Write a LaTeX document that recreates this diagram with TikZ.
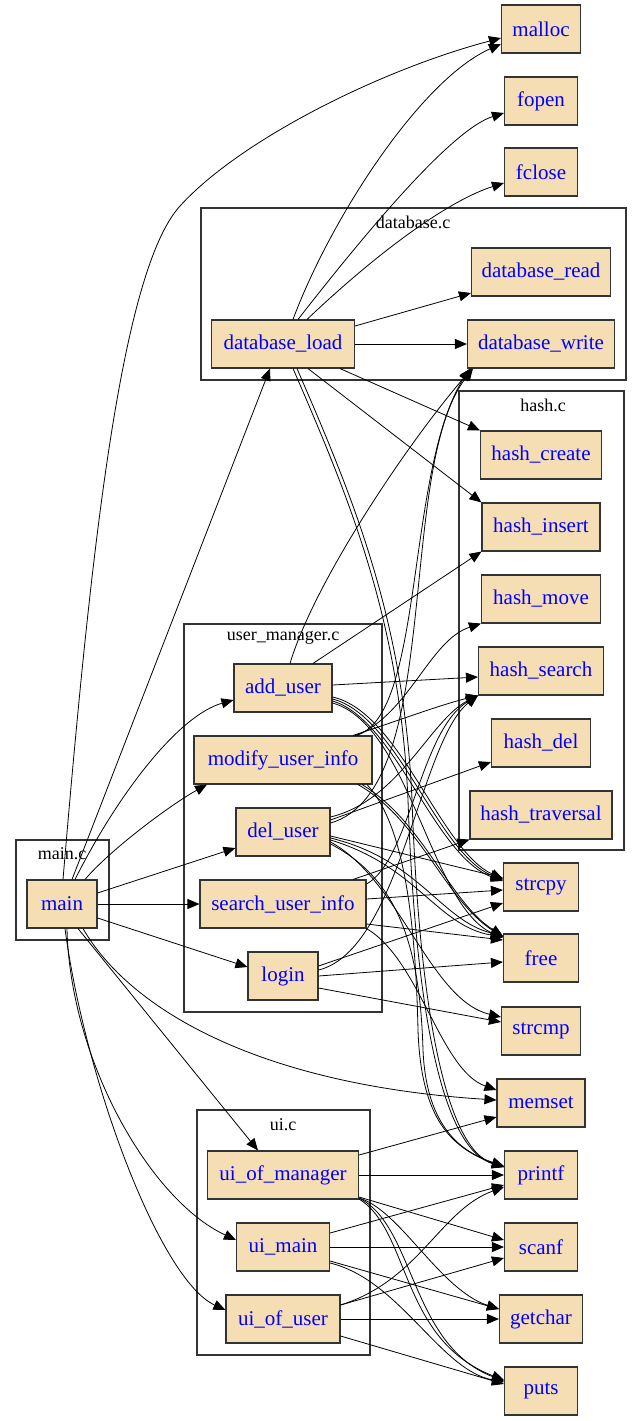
\documentclass[tikz,border=0pt]{standalone}
\usepackage{fontspec}
\setmainfont{Liberation Serif}
\usetikzlibrary{arrows.meta}
\definecolor{nodefill}{HTML}{F5DEB3}
\definecolor{fnblue}{HTML}{0000FF}
\begin{document}
\begin{tikzpicture}[x=1pt,y=-1pt,
  fn/.style={draw=black!80, line width=1.1pt, fill=nodefill, text=fnblue,
    font=\fontsize{21}{24}\selectfont, minimum height=48pt, inner sep=0pt, anchor=center},
  cl/.style={draw=black!80, line width=1.1pt},
  cllab/.style={font=\fontsize{18}{20}\selectfont, inner sep=0pt},
  ed/.style={-{Triangle[length=12pt,width=10pt]}, line width=0.8pt},
]
\useasboundingbox (0,0) rectangle (643,1421);
\fill[white] (0,0) rectangle (643,1421);
% clusters
\draw[cl] (201,208) rectangle (626,380);
\node[cllab] (labdb) at (413,222) {database.c};
\draw[cl] (459,391) rectangle (624,850);
\node[cllab] (labhash) at (543,405) {hash.c};
\draw[cl] (184,624) rectangle (382,1012);
\node[cllab] (labum) at (283,638) {user\_manager.c};
\draw[cl] (16,840) rectangle (109,940);
\node[cllab] (labmain) at (62,854) {main.c};
\draw[cl] (197,1110) rectangle (370,1355);
\node[cllab] (labui) at (283,1125) {ui.c};
% nodes
\node[fn, minimum width=79pt] (malloc) at (541,29) {malloc};
\node[fn, minimum width=73pt] (fopen) at (541,101) {fopen};
\node[fn, minimum width=73pt] (fclose) at (541,172) {fclose};
\node[fn, minimum width=139pt] (database_read) at (541,272) {database\_read};
\node[fn, minimum width=147pt] (database_write) at (541,344) {database\_write};
\node[fn, minimum width=143pt] (database_load) at (283,344) {database\_load};
\node[fn, minimum width=121pt] (hash_create) at (541,455) {hash\_create};
\node[fn, minimum width=118pt] (hash_insert) at (541,527) {hash\_insert};
\node[fn, minimum width=119pt] (hash_move) at (541,599) {hash\_move};
\node[fn, minimum width=125pt] (hash_search) at (541,671) {hash\_search};
\node[fn, minimum width=99pt] (hash_del) at (541,743) {hash\_del};
\node[fn, minimum width=142pt] (hash_traversal) at (541,815) {hash\_traversal};
\node[fn, minimum width=75pt] (strcpy) at (541,887) {strcpy};
\node[fn, minimum width=75pt] (free) at (541,958) {free};
\node[fn, minimum width=79pt] (strcmp) at (541,1031) {strcmp};
\node[fn, minimum width=88pt] (memset) at (541,1103) {memset};
\node[fn, minimum width=73pt] (printf) at (541,1175) {printf};
\node[fn, minimum width=73pt] (scanf) at (541,1247) {scanf};
\node[fn, minimum width=83pt] (getchar) at (541,1319) {getchar};
\node[fn, minimum width=73pt] (puts) at (541,1391) {puts};
\node[fn, minimum width=98pt] (add_user) at (283,688) {add\_user};
\node[fn, minimum width=178pt] (modify_user_info) at (283,760) {modify\_user\_info};
\node[fn, minimum width=94pt] (del_user) at (283,832) {del\_user};
\node[fn, minimum width=166pt] (search_user_info) at (283,904) {search\_user\_info};
\node[fn, minimum width=70pt] (login) at (283,976) {login};
\node[fn, minimum width=70pt] (main) at (62,904) {main};
\node[fn, minimum width=151pt] (ui_of_manager) at (283,1175) {ui\_of\_manager};
\node[fn, minimum width=93pt] (ui_main) at (283,1247) {ui\_main};
\node[fn, minimum width=114pt] (ui_of_user) at (283,1319) {ui\_of\_user};
% main edges
\draw[ed] ([xshift=1pt]main.north) .. controls (90,560) and (120,272) .. (180,206) .. controls (240,140) and (380,70) .. ([yshift=-9pt]malloc.west);
\draw[ed] ([xshift=10pt]main.north) -- ([xshift=-13pt]database_load.south);
\draw[ed] ([xshift=13pt]main.north) .. controls (120,790) and (180,715) .. ([yshift=-12pt]add_user.west);
\draw[ed] ([xshift=23pt]main.north) .. controls (110,850) and (170,805) .. ([xshift=-76pt]modify_user_info.south);
\draw[ed] ([yshift=11pt]main.east) -- ([yshift=-16pt]del_user.west);
\draw[ed] (main.east) -- (search_user_info.west);
\draw[ed] ([yshift=-14pt]main.east) -- ([yshift=9pt]login.west);
\draw[ed] ([xshift=21pt]main.south) .. controls (130,1010) and (260,1085) .. ([yshift=3pt]memset.west);
\draw[ed] ([xshift=16pt]main.south) -- ([xshift=-25pt]ui_of_manager.north);
\draw[ed] ([xshift=5pt]main.south) .. controls (70,1060) and (150,1200) .. ([yshift=7pt]ui_main.west);
\draw[ed] ([xshift=3pt]main.south) .. controls (85,1080) and (160,1280) .. ([yshift=9pt]ui_of_user.west);
% database_load edges
\draw[ed] ([xshift=10pt]database_load.north) .. controls (330,220) and (420,80) .. ([yshift=-15pt]malloc.west);
\draw[ed] ([xshift=15pt]database_load.north) .. controls (360,240) and (450,130) .. ([yshift=-12pt]fopen.west);
\draw[ed] ([xshift=24pt]database_load.north) .. controls (380,250) and (450,200) .. ([yshift=-11pt]fclose.west);
\draw[ed] ([yshift=18pt]database_load.east) -- ([yshift=-21pt]database_read.west);
\draw[ed] (database_load.east) -- (database_write.west);
\draw[ed] ([xshift=57pt]database_load.south) -- (hash_create.north west);
\draw[ed] ([xshift=25pt]database_load.south) -- (hash_insert.north west);
\draw[ed] ([xshift=10pt]database_load.south) .. controls (350,500) and (400,620) .. (408,800) .. controls (415,1000) and (440,1148) .. ([yshift=8pt]printf.west);
\draw[ed] ([xshift=14pt]database_load.south) .. controls (354,500) and (404,620) .. (412,800) .. controls (419,1000) and (444,1148) .. ([yshift=8pt]printf.west);
% add_user edges
\draw[ed] ([xshift=7pt]add_user.north) .. controls (315,580) and (410,440) .. ([xshift=5pt]database_write.south west);
\draw[ed] ([xshift=30pt]add_user.north) -- (hash_insert.south west);
\draw[ed] ([yshift=3pt]add_user.east) -- ([yshift=-6pt]hash_search.west);
\draw[ed] ([yshift=-9pt]add_user.east) .. controls (400,712) and (440,850) .. ([yshift=8pt]strcpy.west);
\draw[ed] ([yshift=-11pt]add_user.east) .. controls (398,716) and (437,853) .. ([yshift=7pt]strcpy.west);
\draw[ed] ([yshift=-13pt]add_user.east) .. controls (396,720) and (434,856) .. ([yshift=6pt]strcpy.west);
\draw[ed] ([yshift=-15pt]add_user.east) .. controls (410,725) and (430,905) .. ([yshift=20pt]free.west);
% modify_user_info edges
\draw[ed] ([xshift=70pt]modify_user_info.north) .. controls (400,720) and (440,705) .. (hash_search.south west);
\draw[ed] ([xshift=74pt]modify_user_info.north) .. controls (410,712) and (430,640) .. (hash_move.south west);
\draw[ed] ([xshift=72pt]modify_user_info.north) .. controls (425,720) and (405,470) .. ([xshift=3pt]database_write.south west);
\draw[ed] ([xshift=75pt]modify_user_info.south) .. controls (420,820) and (445,900) .. ([yshift=21pt]free.west);
\draw[ed] ([xshift=79pt]modify_user_info.south) .. controls (424,822) and (449,902) .. ([yshift=22pt]free.west);
\draw[ed] ([xshift=84pt]modify_user_info.south) .. controls (400,820) and (415,900) .. (418,1030) .. controls (421,1120) and (452,1148) .. ([yshift=8pt]printf.west);
% del_user edges
\draw[ed] ([yshift=15pt]del_user.east) .. controls (400,800) and (430,720) .. (hash_search.south west);
\draw[ed] ([yshift=12pt]del_user.east) -- ([yshift=-19pt]hash_del.west);
\draw[ed] ([yshift=9pt]del_user.east) .. controls (445,790) and (395,470) .. ([xshift=6pt]database_write.south west);
\draw[ed] ([yshift=-4pt]del_user.east) -- ([yshift=9pt]strcpy.west);
\draw[ed] ([yshift=-6pt]del_user.east) .. controls (420,860) and (440,920) .. ([yshift=22pt]free.west);
\draw[ed] ([yshift=-8pt]del_user.east) .. controls (417,866) and (437,926) .. ([yshift=21pt]free.west);
\draw[ed] ([yshift=-10pt]del_user.east) .. controls (400,880) and (430,1000) .. ([yshift=14pt]strcmp.west);
\draw[ed] ([yshift=-12pt]del_user.east) .. controls (400,880) and (420,950) .. (423,1050) .. controls (426,1120) and (455,1150) .. ([yshift=9pt]printf.west);
% search_user_info edges
\draw[ed] ([xshift=70pt]search_user_info.north) -- (hash_traversal.south west);
\draw[ed] ([yshift=20pt]search_user_info.east) .. controls (410,860) and (420,730) .. (hash_search.south west);
\draw[ed] ([yshift=5pt]search_user_info.east) -- ([yshift=-3pt]strcpy.west);
\draw[ed] ([yshift=-20pt]search_user_info.east) -- ([yshift=18pt]free.west);
\draw[ed] (search_user_info.south east) .. controls (420,960) and (440,1070) .. ([yshift=13pt]memset.west);
% login edges
\draw[ed] ([yshift=10pt]login.east) -- ([yshift=-16pt]strcpy.west);
\draw[ed] ([yshift=6pt]login.east) .. controls (400,950) and (420,740) .. (hash_search.south west);
\draw[ed] (login.east) -- ([yshift=-4pt]free.west);
\draw[ed] ([yshift=-12pt]login.east) -- ([yshift=9pt]strcmp.west);
% ui_of_manager edges
\draw[ed] ([yshift=20pt]ui_of_manager.east) -- ([yshift=-14pt]memset.west);
\draw[ed] (ui_of_manager.east) -- (printf.west);
\draw[ed] ([yshift=-22pt]ui_of_manager.east) -- ([yshift=7pt]scanf.west);
\draw[ed] ([yshift=-23pt]ui_of_manager.east) .. controls (400,1210) and (440,1290) .. ([yshift=10pt]getchar.west);
\draw[ed] ([yshift=-24pt]ui_of_manager.east) .. controls (410,1230) and (400,1340) .. ([yshift=11pt]puts.west);
\draw[ed] ([yshift=-23pt]ui_of_manager.east) .. controls (415,1226) and (410,1345) .. ([yshift=10pt]puts.west);
% ui_main edges
\draw[ed] ([yshift=14pt]ui_main.east) -- ([yshift=-10pt]printf.west);
\draw[ed] (ui_main.east) -- (scanf.west);
\draw[ed] ([yshift=-14pt]ui_main.east) -- ([yshift=10pt]getchar.west);
\draw[ed] ([yshift=-16pt]ui_main.east) .. controls (400,1280) and (440,1370) .. ([yshift=9pt]puts.west);
% ui_of_user edges
\draw[ed] ([yshift=14pt]ui_of_user.east) .. controls (420,1280) and (440,1210) .. ([yshift=-12pt]printf.west);
\draw[ed] ([yshift=14pt]ui_of_user.east) -- ([yshift=-11pt]scanf.west);
\draw[ed] (ui_of_user.east) -- (getchar.west);
\draw[ed] ([yshift=-17pt]ui_of_user.east) -- ([yshift=7pt]puts.west);
\end{tikzpicture}
\end{document}
